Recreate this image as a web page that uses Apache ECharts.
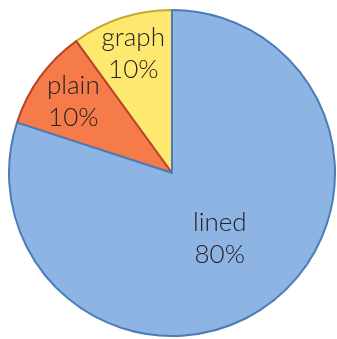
<!DOCTYPE html>
<html>
<head>
<meta charset="utf-8">
<style>
  html, body { margin: 0; padding: 0; background: #ffffff; }
  #chart { width: 337px; height: 339px; }
</style>
<script src="https://cdn.jsdelivr.net/npm/echarts@6/dist/echarts.min.js"></script>
</head>
<body>
<div id="chart"></div>
<script>
// Paper types, listed counter-clockwise from 12 o'clock
const categories = ['graph', 'plain', 'lined'];
const shares = [10, 10, 80];

const fills = ['#FFE870', '#F57B4B', '#8DB4E2'];
const borders = ['#C4A82E', '#B8432A', '#4A7EBB'];
// how far out each label sits, as a fraction of the radius
const labelDepth = [0.75, 0.73, 0.48];

const R = 163;
const total = shares.reduce((a, b) => a + b, 0);

let acc = 0;
const data = categories.map((name, i) => {
  const mid = (acc + shares[i] / 2) / total * 2 * Math.PI; // counter-clockwise from top
  acc += shares[i];
  const shift = (labelDepth[i] - 0.5) * R;
  return {
    name,
    value: shares[i],
    itemStyle: { color: fills[i], borderColor: borders[i], borderWidth: 2 },
    label: { offset: [-Math.sin(mid) * shift, -Math.cos(mid) * shift] }
  };
});

const chart = echarts.init(document.getElementById('chart'), null, { renderer: 'canvas' });
chart.setOption({
  animation: false,
  series: [{
    type: 'pie',
    center: [172, 173],
    radius: [0, R],
    startAngle: 90,
    clockwise: false,
    avoidLabelOverlap: false,
    emphasis: { disabled: true },
    label: {
      show: true,
      position: 'inside',
      formatter: p => p.name + '\n' + Math.round(p.percent) + '%',
      fontFamily: 'Lato',
      fontWeight: 300,
      fontSize: 26,
      lineHeight: 32,
      color: '#222222',
      align: 'center'
    },
    labelLine: { show: false },
    data
  }]
});
</script>
</body>
</html>
